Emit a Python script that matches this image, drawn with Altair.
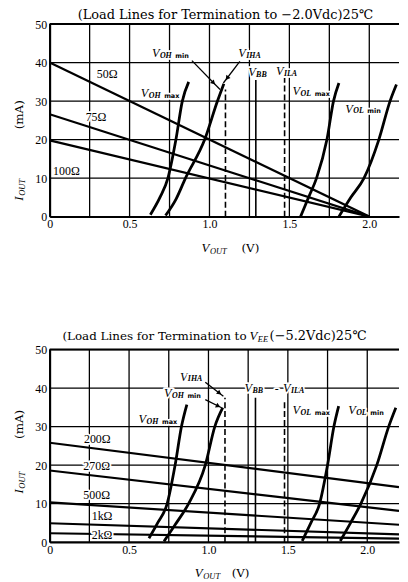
import math
import altair as alt
import pandas as pd

SERIF = "DejaVu Serif"
TIMES = "Liberation Serif"
SANS = "DejaVu Sans"

W, H = 352, 194
I_MAX = 50
x_tick_values = [0, 0.25, 0.5, 0.75, 1.0, 1.25, 1.5, 1.75, 2.0]
y_tick_values = [0, 10, 20, 30, 40, 50]

# ---------------- top panel: termination to -2.0 V ----------------
top_title = "(Load Lines for Termination to −2.0Vdc)25℃"
top_xmax = 2.186
top_load_names = ["50Ω", "75Ω", "100Ω"]
top_load_i_start = [40.0, 26.6, 19.8]
top_load_v_end = [2.0, 2.0, 2.0]
top_load_i_end = [0.0, 0.0, 0.0]

top_curve_names = ["VOH max", "VOH min", "VOL max", "VOL min"]
top_curve_v = [
    [0.63, 0.69, 0.74, 0.79, 0.83, 0.87],
    [0.725, 0.79, 0.85, 0.97, 1.05, 1.09],
    [1.57, 1.62, 1.67, 1.735, 1.776, 1.81],
    [1.81, 1.885, 1.967, 2.06, 2.13, 2.17],
]
top_curve_i = [
    [0.5, 5.0, 10.0, 20.0, 30.0, 35.0],
    [0.3, 4.5, 10.0, 20.0, 30.0, 34.5],
    [0.0, 5.0, 10.0, 20.0, 30.0, 34.7],
    [0.0, 5.0, 10.0, 20.0, 30.0, 34.3],
]
top_marker_v = [1.10, 1.29, 1.47]
top_marker_top = [33.0, 35.5, 36.0]
top_marker_dashed = [True, False, True]
top_arrows = [(0.89, 40.5, 1.066, 33.0), (1.19, 40.3, 1.087, 34.7)]
top_curve_labels = [
    ("V", "OH", "min", 0.64, 42.4),
    ("V", "IHA", "", 1.18, 42.4),
    ("V", "BB", "", 1.242, 37.5),
    ("V", "ILA", "", 1.416, 37.8),
    ("V", "OH", "max", 0.57, 32.0),
    ("V", "OL", "max", 1.52, 32.6),
    ("V", "OL", "min", 1.85, 28.0),
]
top_load_label_pos = [(0.36, 36.9), (0.29, 25.8), (0.105, 11.9)]

# ---------------- bottom panel: termination to VEE (-5.2 V) ----------------
bot_xmax = 2.2
bot_load_names = ["200Ω", "270Ω", "500Ω", "1kΩ", "2kΩ"]
bot_load_i_start = [25.8, 18.6, 10.3, 4.9, 2.3]
bot_load_v_end = [2.2, 2.2, 2.2, 2.2, 2.2]
bot_load_i_end = [14.3, 8.1, 4.5, 2.0, 0.9]

bot_curve_names = ["VOH max", "VOH min", "VOL max", "VOL min"]
bot_curve_v = [
    [0.625, 0.68, 0.74, 0.79, 0.83, 0.864],
    [0.72, 0.79, 0.875, 0.98, 1.04, 1.09],
    [1.59, 1.645, 1.70, 1.75, 1.79, 1.82],
    [1.83, 1.895, 1.96, 2.06, 2.135, 2.18],
]
bot_curve_i = [
    [1.0, 5.0, 10.0, 20.0, 30.0, 35.7],
    [0.2, 4.5, 10.0, 20.0, 30.0, 34.9],
    [0.3, 5.0, 10.0, 20.0, 30.0, 35.3],
    [0.3, 5.0, 10.0, 20.0, 30.0, 34.9],
]
bot_marker_v = [1.104, 1.296, 1.479]
bot_marker_top = [37.5, 37.5, 37.0]
bot_marker_dashed = [True, False, True]
bot_arrows = [(0.98, 41.5, 1.094, 37.9), (0.98, 37.0, 1.083, 34.9)]
bot_curve_labels = [
    ("V", "IHA", "", 0.82, 42.9),
    ("V", "OH", "min", 0.72, 38.7),
    ("V", "OH", "max", 0.56, 31.9),
    ("V", "BB", "", 1.227, 40.0),
    ("V", "ILA", "", 1.47, 40.0),
    ("V", "OL", "max", 1.53, 34.2),
    ("V", "OL", "min", 1.88, 34.2),
]
bot_extra_text = [("-", 1.43, 40.0)]
bot_load_label_pos = [(0.30, 26.7), (0.296, 19.8), (0.296, 12.1), (0.33, 6.7), (0.33, 1.8)]

SUBW = {"O": 0.722, "H": 0.722, "U": 0.722, "T": 0.556, "A": 0.611,
        "L": 0.556, "B": 0.611, "E": 0.611, "I": 0.333}


def subwidth(s, size):
    return sum(SUBW.get(c, 0.6) for c in s) * size


def make_xy(xmax):
    X = alt.X("V:Q", scale=alt.Scale(domain=[0, xmax], nice=False, zero=False),
              axis=alt.Axis(values=x_tick_values, grid=False, ticks=False, title=None,
                            labelExpr="datum.value == 0 ? '0' : (datum.value*2 == round(datum.value*2) ? format(datum.value, '.1f') : '')",
                            labelFlush=False, labelOverlap=False, labelFont=TIMES, labelFontSize=12,
                            labelColor="black", labelPadding=2, domainColor="black", domainWidth=2))
    Y = alt.Y("I:Q", scale=alt.Scale(domain=[0, I_MAX], nice=False, zero=False),
              axis=alt.Axis(values=y_tick_values, grid=False, ticks=False, title=None, format="d",
                            labelFlush=False, labelOverlap=False, labelFont=TIMES, labelFontSize=12,
                            labelColor="black", labelPadding=3, domainColor="black", domainWidth=2))
    return X, Y


def text_layers(rows, X, Y, halo=True, **mk):
    if not rows:
        return []
    base = alt.Chart(pd.DataFrame(rows)).encode(x=X, y=Y, text="t:N")
    out = []
    if halo:
        out.append(base.mark_text(color="white", stroke="white", strokeWidth=3.5,
                                  strokeJoin="round", **mk))
    out.append(base.mark_text(color="black", **mk))
    return out


def panel(xmax, load_names, li0, lv1, li1, cnames, cv, ci, mv, mtop, mdash, arrows,
          clabels, load_pos, extra_text, title_rows, xtitle, ytitle):
    pxv = W / xmax
    pxi = H / I_MAX
    X, Y = make_xy(xmax)
    layers = []

    # grid
    layers.append(alt.Chart(pd.DataFrame({"V": x_tick_values})).mark_rule(color="black", strokeWidth=1.3)
                  .encode(x=X))
    layers.append(alt.Chart(pd.DataFrame({"I": y_tick_values})).mark_rule(color="black", strokeWidth=1.3)
                  .encode(y=Y))
    layers.append(alt.Chart(pd.DataFrame({"I": [y_tick_values[-1]]})).mark_rule(color="black", strokeWidth=2)
                  .encode(y=Y))

    # load lines
    rows = []
    for n, a, b, c in zip(load_names, li0, lv1, li1):
        rows.append({"name": n, "k": 0, "V": 0.0, "I": a})
        rows.append({"name": n, "k": 1, "V": b, "I": c})
    layers.append(alt.Chart(pd.DataFrame(rows)).mark_line(color="black", strokeWidth=2.2, clip=True)
                  .encode(x=X, y=Y, detail="name:N", order="k:Q"))

    # characteristic curves
    rows = []
    for n, vv, ii in zip(cnames, cv, ci):
        for k, (v, i) in enumerate(zip(vv, ii)):
            rows.append({"name": n, "k": k, "V": v, "I": i})
    layers.append(alt.Chart(pd.DataFrame(rows)).mark_line(color="black", strokeWidth=2.8,
                                                          interpolate="monotone", clip=True)
                  .encode(x=X, y=Y, detail="name:N", order="k:Q"))

    # threshold markers
    solid = [{"V": v, "I": 0.0, "I2": t} for v, t, d in zip(mv, mtop, mdash) if not d]
    dashed = [{"V": v, "I": 0.0, "I2": t} for v, t, d in zip(mv, mtop, mdash) if d]
    layers.append(alt.Chart(pd.DataFrame(solid)).mark_rule(color="black", strokeWidth=1.6)
                  .encode(x=X, y=Y, y2="I2:Q"))
    layers.append(alt.Chart(pd.DataFrame(dashed)).mark_rule(color="black", strokeWidth=1.6,
                                                            strokeDash=[6, 3])
                  .encode(x=X, y=Y, y2="I2:Q"))

    # arrows
    arows, heads = [], []
    for v1, i1, v2, i2 in arrows:
        arows.append({"V": v1, "I": i1, "V2": v2, "I2": i2})
        dx = (v2 - v1) * pxv
        dy = -(i2 - i1) * pxi
        ang = math.degrees(math.atan2(dx, -dy)) % 360
        heads.append({"V": v2 - 0.25 * (v2 - v1), "I": i2 - 0.25 * (i2 - i1), "ang": ang})
    layers.append(alt.Chart(pd.DataFrame(arows)).mark_rule(color="black", strokeWidth=1.3)
                  .encode(x=X, y=Y, x2="V2:Q", y2="I2:Q"))
    layers.append(alt.Chart(pd.DataFrame(heads)).mark_point(shape="triangle", filled=True,
                                                            color="black", size=28, opacity=1)
                  .encode(x=X, y=Y, angle=alt.Angle("ang:Q", scale=None)))

    # subscripted labels
    mains, subs, subs2 = [], [], []
    for main, sub, sub2, v, i in clabels:
        mains.append({"V": v, "I": i, "t": main})
        x1 = v + 8.0 / pxv
        subs.append({"V": x1, "I": i - 2.5 / pxi, "t": sub})
        if sub2:
            x2 = x1 + (subwidth(sub, 8) + 4.0) / pxv
            subs2.append({"V": x2, "I": i - 2.5 / pxi, "t": sub2})
    text_l = []
    text_l += text_layers(mains, X, Y, align="left", baseline="middle", font=TIMES,
                          fontSize=12.5, fontStyle="italic")
    text_l += text_layers(subs, X, Y, align="left", baseline="middle", font=TIMES,
                          fontSize=8, fontStyle="italic", fontWeight="bold")
    text_l += text_layers(subs2, X, Y, align="left", baseline="middle", font=SANS,
                          fontSize=6.5, fontWeight="bold")
    text_l += text_layers([{"V": v, "I": i, "t": t} for t, v, i in extra_text], X, Y,
                          align="center", baseline="middle", font=TIMES, fontSize=12)
    text_l += text_layers([{"V": p[0], "I": p[1], "t": n} for n, p in zip(load_names, load_pos)],
                          X, Y, align="center", baseline="middle", font=TIMES, fontSize=12)
    layers += text_l

    # title pieces
    for rows, mk in title_rows:
        layers += text_layers(rows, X, Y, halo=False, **mk)

    # x title
    (xv, xi, xv2) = xtitle
    layers += text_layers([{"V": xv, "I": xi, "t": "V"}], X, Y, halo=False, align="left",
                          baseline="middle", font=TIMES, fontSize=13, fontStyle="italic")
    layers += text_layers([{"V": xv + 8.5 / pxv, "I": xi - 3 / pxi, "t": "OUT"}], X, Y, halo=False,
                          align="left", baseline="middle", font=TIMES, fontSize=8.5, fontStyle="italic")
    layers += text_layers([{"V": xv2, "I": xi, "t": "(V)"}], X, Y, halo=False, align="left",
                          baseline="middle", font=SERIF, fontSize=12)

    # y title (rotated)
    (yv, yi, gap) = ytitle
    layers += text_layers([{"V": yv, "I": yi, "t": "I"}], X, Y, halo=False, align="left",
                          baseline="middle", angle=270, font=TIMES, fontSize=13, fontStyle="italic")
    layers += text_layers([{"V": yv, "I": yi, "t": "OUT"}], X, Y, halo=False, align="left",
                          baseline="middle", angle=270, dx=5, dy=3, font=TIMES, fontSize=8.5,
                          fontStyle="italic")
    layers += text_layers([{"V": yv, "I": yi, "t": "(mA)"}], X, Y, halo=False, align="left",
                          baseline="middle", angle=270, dx=gap, font=SERIF, fontSize=12)

    return alt.layer(*layers).properties(width=W, height=H)


top_title_rows = [
    ([{"V": 1.10, "I": 52.3, "t": top_title}],
     dict(align="center", baseline="middle", font=SERIF, fontSize=13)),
]
bot_title_rows = [
    ([{"V": 1.24, "I": 53.5, "t": "(Load Lines for Termination to"}],
     dict(align="right", baseline="middle", font=SERIF, fontSize=12)),
    ([{"V": 1.258, "I": 53.5, "t": "V"}],
     dict(align="left", baseline="middle", font=TIMES, fontSize=13, fontStyle="italic")),
    ([{"V": 1.258 + 8.5 / (W / bot_xmax), "I": 53.5 - 3 / (H / I_MAX), "t": "EE"}],
     dict(align="left", baseline="middle", font=TIMES, fontSize=8.5, fontStyle="italic")),
    ([{"V": 1.385, "I": 53.5, "t": "(−5.2Vdc)25℃"}],
     dict(align="left", baseline="middle", font=SERIF, fontSize=13)),
]

top = panel(top_xmax, top_load_names, top_load_i_start, top_load_v_end, top_load_i_end,
            top_curve_names, top_curve_v, top_curve_i, top_marker_v, top_marker_top,
            top_marker_dashed, top_arrows, top_curve_labels, top_load_label_pos, [],
            top_title_rows, (0.95, -8.2, 1.2), (-0.193, 4.1, 72))
bottom = panel(bot_xmax, bot_load_names, bot_load_i_start, bot_load_v_end, bot_load_i_end,
               bot_curve_names, bot_curve_v, bot_curve_i, bot_marker_v, bot_marker_top,
               bot_marker_dashed, bot_arrows, bot_curve_labels, bot_load_label_pos, bot_extra_text,
               bot_title_rows, (0.914, -8.0, 1.146), (-0.194, 12.6, 55))

chart = (alt.vconcat(top, bottom, spacing=74)
         .properties(padding={"left": 4, "top": -1, "right": 0, "bottom": 0})
         .configure_view(stroke=None))

chart.save("out.html", embed_options={"renderer": "svg", "actions": False})
